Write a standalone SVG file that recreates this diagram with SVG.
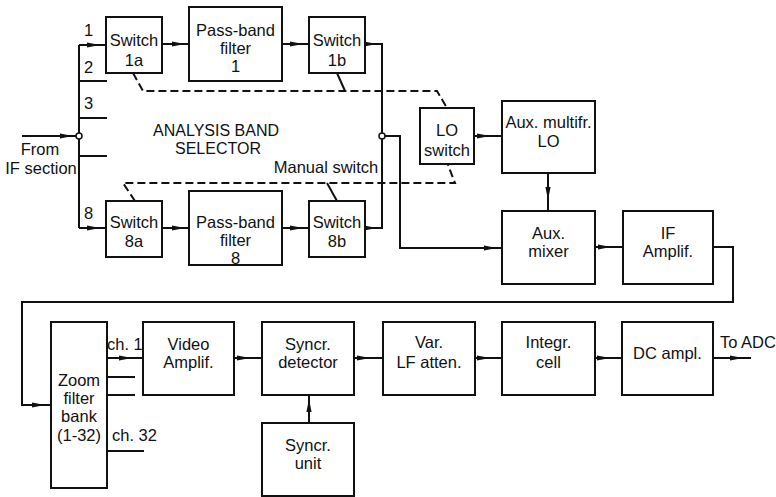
<svg xmlns="http://www.w3.org/2000/svg" xmlns:xlink="http://www.w3.org/1999/xlink" width="776" height="497" viewBox="0 0 776 497">
<style>
.b{fill:#fff;stroke:#111;stroke-width:2}
.l{fill:none;stroke:#111;stroke-width:2}
.d{fill:none;stroke:#111;stroke-width:2;stroke-dasharray:8,4}
text{font-family:"Liberation Sans",Arial,sans-serif;font-size:16.5px;fill:#111}
.c{text-anchor:middle}
</style>
<defs>
<path id="ah" d="M0,0 L-13,-2.6 L-13,2.6 Z" fill="#111"/>
</defs>
<rect width="776" height="497" fill="#fff"/>
<g id="connectors">
<path class="l" d="M22,136 H79"/>
<path class="l" d="M79,45 V228"/>
<path class="l" d="M79,45 H106"/>
<path class="l" d="M79,81 H107"/>
<path class="l" d="M79,118 H107"/>
<path class="l" d="M79,156 H107"/>
<path class="l" d="M79,228 H106"/>
<path class="l" d="M162,44 H189"/>
<path class="l" d="M162,228 H189"/>
<path class="l" d="M282,44 H309"/>
<path class="l" d="M282,228 H309"/>
<path class="l" d="M365,44 H382 V228 H365"/>
<path class="l" d="M382,136 H400 V248 H502"/>
<path class="l" d="M474,136 H502"/>
<path class="l" d="M548,173 V211"/>
<path class="l" d="M595,247 H623"/>
<path class="l" d="M713,247 H733 V302 H22 V405 H51"/>
<path class="l" d="M107,358 H143"/>
<path class="l" d="M107,377 H135"/>
<path class="l" d="M107,395 H135"/>
<path class="l" d="M107,451 H144"/>
<path class="l" d="M234,358 H262"/>
<path class="l" d="M354,358 H383"/>
<path class="l" d="M475,358 H502"/>
<path class="l" d="M595,358 H622"/>
<path class="l" d="M713,358 H751"/>
<path class="l" d="M309,423 V395"/>
<path class="d" d="M133,73 L143,91 H437 L447,108"/>
<path class="l" d="M337,73 L345,91"/>
<path class="d" d="M135,201 L123,183 H455 L448,165"/>
<path class="l" d="M327,183 L337,201"/>
<circle cx="79" cy="136" r="3" fill="#fff" stroke="#111" stroke-width="1.5"/>
<circle cx="382" cy="136" r="3" fill="#fff" stroke="#111" stroke-width="1.5"/>
<use xlink:href="#ah" transform="translate(73,136)"/>
<use xlink:href="#ah" transform="translate(100,45)"/>
<use xlink:href="#ah" transform="translate(100,228)"/>
<use xlink:href="#ah" transform="translate(185,44)"/>
<use xlink:href="#ah" transform="translate(185,228)"/>
<use xlink:href="#ah" transform="translate(303,44)"/>
<use xlink:href="#ah" transform="translate(303,228)"/>
<use xlink:href="#ah" transform="translate(377,44)"/>
<use xlink:href="#ah" transform="translate(377,228)"/>
<use xlink:href="#ah" transform="translate(490,136)"/>
<use xlink:href="#ah" transform="translate(548,200) rotate(90)"/>
<use xlink:href="#ah" transform="translate(497,248)"/>
<use xlink:href="#ah" transform="translate(611,247)"/>
<use xlink:href="#ah" transform="translate(45,405)"/>
<use xlink:href="#ah" transform="translate(132,358)"/>
<use xlink:href="#ah" transform="translate(250,358)"/>
<use xlink:href="#ah" transform="translate(370,358)"/>
<use xlink:href="#ah" transform="translate(490,358)"/>
<use xlink:href="#ah" transform="translate(610,358)"/>
<use xlink:href="#ah" transform="translate(743,358)"/>
<use xlink:href="#ah" transform="translate(309,399) rotate(-90)"/>
</g>
<g id="labels">
<text x="84" y="36">1</text>
<text x="84" y="73">2</text>
<text x="84" y="109">3</text>
<text x="84" y="219">8</text>
<text x="40" y="155" class="c">From</text>
<text x="41" y="174" class="c">IF section</text>
<text x="216" y="136" class="c" style="font-size:16px">ANALYSIS BAND</text>
<text x="218" y="154" class="c" style="font-size:16px">SELECTOR</text>
<text x="326" y="173" class="c">Manual switch</text>
<text x="107" y="350">ch. 1</text>
<text x="112" y="441">ch. 32</text>
<text x="720" y="348">To ADC</text>
</g>
<g id="sw1a"><rect class="b" x="106" y="17" width="56" height="56"/><text x="134" y="46" class="c">Switch</text><text x="134" y="66" class="c">1a</text></g>
<g id="pbf1"><rect class="b" x="189" y="7" width="93" height="74"/><text x="235.5" y="36" class="c">Pass-band</text><text x="235.5" y="54" class="c">filter</text><text x="235.5" y="72" class="c">1</text></g>
<g id="sw1b"><rect class="b" x="309" y="17" width="56" height="56"/><text x="337" y="46" class="c">Switch</text><text x="337" y="66" class="c">1b</text></g>
<g id="sw8a"><rect class="b" x="106" y="201" width="56" height="56"/><text x="134" y="228" class="c">Switch</text><text x="134" y="247" class="c">8a</text></g>
<g id="pbf8"><rect class="b" x="189" y="191" width="93" height="74"/><text x="235.5" y="228" class="c">Pass-band</text><text x="235.5" y="246" class="c">filter</text><text x="235.5" y="264" class="c">8</text></g>
<g id="sw8b"><rect class="b" x="309" y="201" width="56" height="56"/><text x="337" y="228" class="c">Switch</text><text x="337" y="247" class="c">8b</text></g>
<g id="loswitch"><rect class="b" x="420" y="108" width="54" height="56"/><text x="447" y="136" class="c">LO</text><text x="447" y="156" class="c">switch</text></g>
<g id="auxlo"><rect class="b" x="502" y="101" width="93" height="72"/><text x="548.5" y="128" class="c">Aux. multifr.</text><text x="548.5" y="147" class="c">LO</text></g>
<g id="auxmixer"><rect class="b" x="502" y="211" width="93" height="73"/><text x="548.5" y="239" class="c">Aux.</text><text x="548.5" y="257" class="c">mixer</text></g>
<g id="ifamp"><rect class="b" x="623" y="211" width="90" height="73"/><text x="668" y="239" class="c">IF</text><text x="668" y="257" class="c">Amplif.</text></g>
<g id="zoom"><rect class="b" x="51" y="322" width="56" height="166"/><text x="79" y="386" class="c">Zoom</text><text x="79" y="404" class="c">filter</text><text x="79" y="422" class="c">bank</text><text x="79" y="441" class="c">(1-32)</text></g>
<g id="video"><rect class="b" x="143" y="322" width="91" height="73"/><text x="188.5" y="350" class="c">Video</text><text x="188.5" y="368" class="c">Amplif.</text></g>
<g id="syncrdet"><rect class="b" x="262" y="322" width="92" height="73"/><text x="308" y="350" class="c">Syncr.</text><text x="308" y="368" class="c">detector</text></g>
<g id="syncrunit"><rect class="b" x="262" y="423" width="92" height="73"/><text x="308" y="451" class="c">Syncr.</text><text x="308" y="469" class="c">unit</text></g>
<g id="varlf"><rect class="b" x="383" y="322" width="92" height="73"/><text x="429" y="348" class="c">Var.</text><text x="429" y="368" class="c">LF atten.</text></g>
<g id="integr"><rect class="b" x="502" y="322" width="93" height="73"/><text x="548.5" y="348" class="c">Integr.</text><text x="548.5" y="368" class="c">cell</text></g>
<g id="dcampl"><rect class="b" x="622" y="322" width="91" height="73"/><text x="667.5" y="359" class="c">DC ampl.</text></g>
</svg>
